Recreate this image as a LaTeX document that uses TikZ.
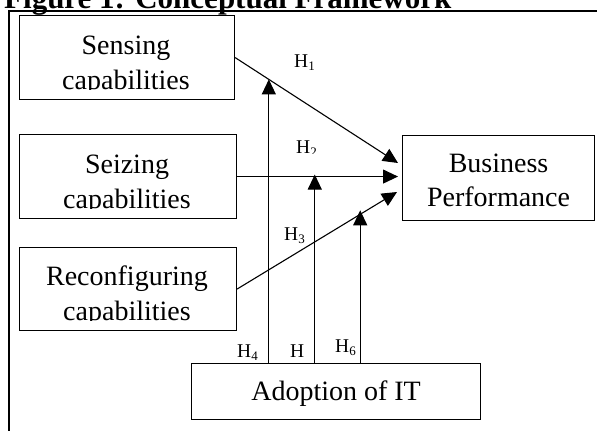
\documentclass[tikz,border=0pt]{standalone}
\usepackage{fontspec}
\setmainfont{Liberation Serif}
\usetikzlibrary{arrows.meta,calc}
\newcommand{\hsub}[1]{\raisebox{-3pt}{\fontsize{13}{13}\selectfont #1}}
\begin{document}
\begin{tikzpicture}[x=1pt,y=-1pt,
  box/.style={draw, line width=1.1pt, inner sep=0pt, anchor=north west},
  boxtext/.style={font=\fontsize{28}{34}\selectfont, inner sep=0pt, anchor=base},
  link/.style={line width=1.1pt, -{Triangle[length=15pt,width=14pt]}},
  hyp/.style={font=\fontsize{19.5}{20}\selectfont, inner sep=0pt, anchor=base west}]
\useasboundingbox (0,0) rectangle (597,431);
\clip (0,0) rectangle (597,431);

% title and outer frame
\node[font=\fontsize{31}{32}\selectfont\bfseries, inner sep=0pt, anchor=base west] (title) at (4,8.5) {Figure 1: Conceptual Framework};
\draw[line width=1.1pt] (9,450) -- (9,11) -- (620,11);

% boxes
\node[box, minimum width=215pt, minimum height=84pt] (sens) at (19,15) {};
\node[box, minimum width=217pt, minimum height=84pt] (seiz) at (19,134) {};
\node[box, minimum width=217pt, minimum height=83pt] (reco) at (19,247) {};
\node[box, minimum width=192pt, minimum height=85pt] (bus) at (402,135) {};
\node[box, minimum width=289pt, minimum height=56pt] (adop) at (191,363) {};

% box texts, cut off by the inner text area of each box
\begin{scope}
  \clip ($(sens.north west)+(1,1)$) rectangle ($(sens.south east)+(-1,-10.5)$);
  \node[boxtext] (sens1) at (126,54.5) {Sensing};
  \node[boxtext] (sens2) at (126,89) {capabilities};
\end{scope}
\begin{scope}
  \clip ($(seiz.north west)+(1,1)$) rectangle ($(seiz.south east)+(-1,-10.5)$);
  \node[boxtext] (seiz1) at (127,173.5) {Seizing};
  \node[boxtext] (seiz2) at (127,208) {capabilities};
\end{scope}
\begin{scope}
  \clip ($(reco.north west)+(1,1)$) rectangle ($(reco.south east)+(-1,-10.5)$);
  \node[boxtext] (reco1) at (127,285.5) {Reconfiguring};
  \node[boxtext] (reco2) at (127,320.5) {capabilities};
\end{scope}
\node[boxtext] (bus1) at (bus.center |- 0,172.5) {Business};
\node[boxtext] (bus2) at (bus.center |- 0,206.5) {Performance};
\node[boxtext] (adop1) at (adop.center |- 0,400) {Adoption of IT};

% direct effects
\coordinate (t1) at (398,163);
\coordinate (t3) at (397,192);
\draw[link] (sens.east) -- (t1);
\draw[link, shorten >=4pt] (seiz.east) -- (seiz.east -| bus.west);
\draw[link] (reco.east) -- (t3);

% moderating effects of IT adoption
\coordinate (m1) at ($(sens.east)!0.207!(t1)$);
\coordinate (m2) at ($(seiz.east)!0.471!(seiz.east -| bus.west)$);
\coordinate (m3) at ($(reco.east)!0.770!(t3)$);
\draw[link] (adop.north -| m1) -- (m1);
\draw[link, shorten >=-2pt] (adop.north -| m2) -- (m2);
\draw[link, shorten >=-4pt] (adop.north -| m3) -- (m3);

% hypothesis labels
\node[hyp] (h1) at (294,67) {H\hsub{1}};
\begin{scope}
  \clip (280,130) rectangle (330,153.5);
  \node[hyp] (h2) at (296,153) {H\hsub{2}};
\end{scope}
\node[hyp] (h3) at (284,240) {H\hsub{3}};
\node[hyp] (h4) at (237,357) {H\hsub{4}};
\node[hyp] (h5) at (290,357) {H};
\node[hyp] (h6) at (335,352) {H\hsub{6}};
\end{tikzpicture}
\end{document}
